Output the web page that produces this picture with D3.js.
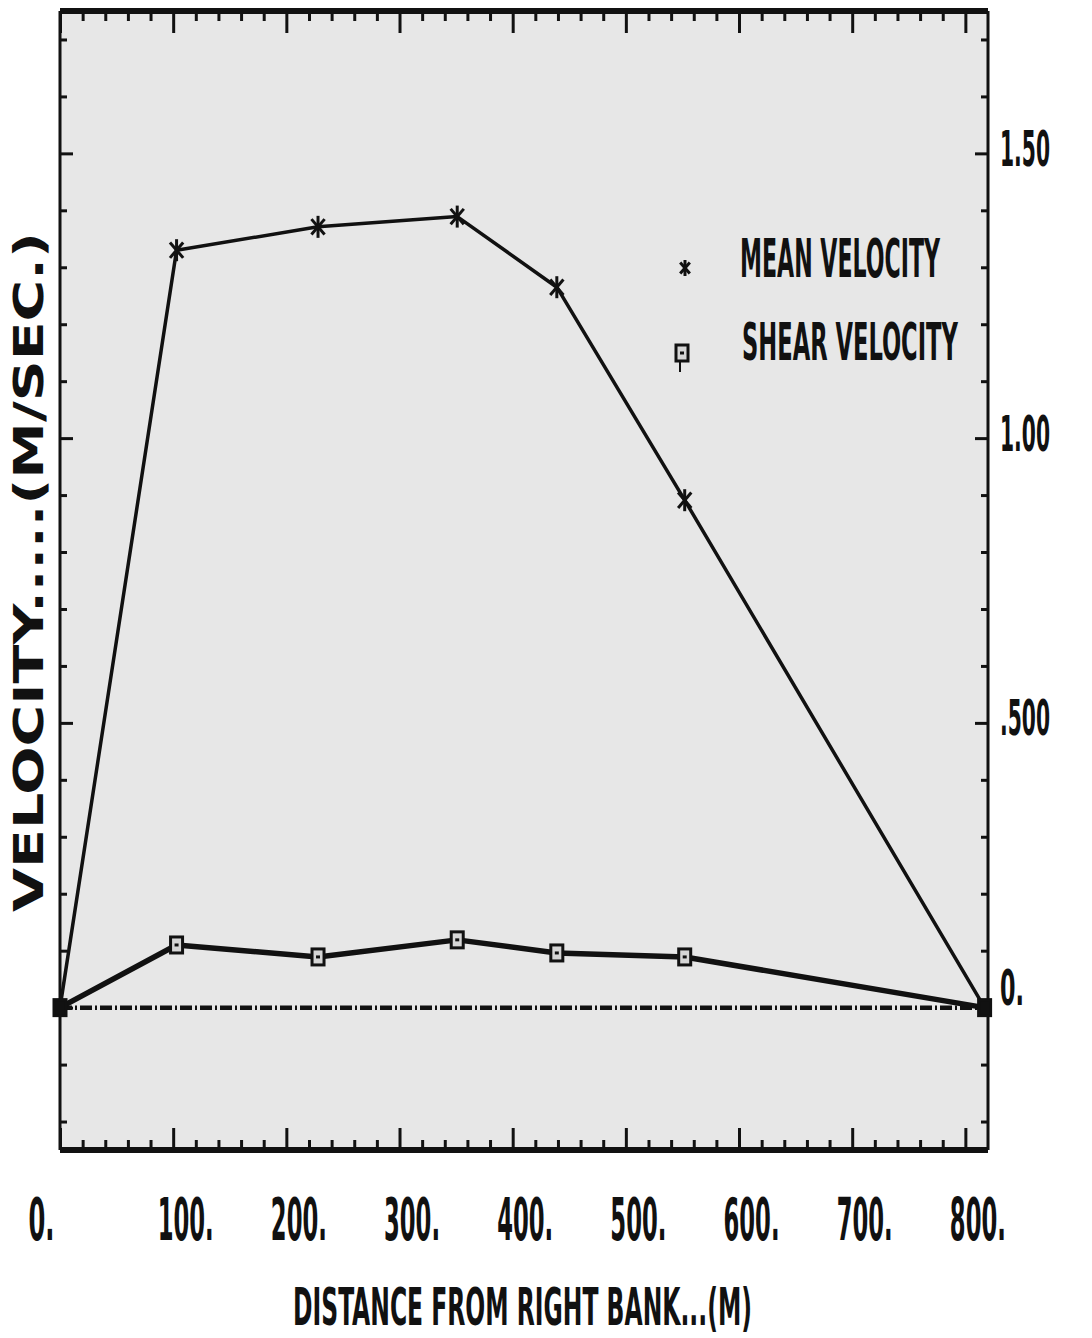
<!DOCTYPE html>
<html>
<head>
<meta charset="utf-8">
<script src="https://cdn.jsdelivr.net/npm/d3@7"></script>
<style>
  html, body { margin: 0; padding: 0; background: #ffffff; }
  svg { display: block; }
</style>
</head>
<body>
<svg id="chart" width="1092" height="1338"></svg>
<script>
// Cross-section velocity profile: distance from right bank vs. velocity
const distance      = [0, 103, 228, 351, 439, 552, 817];
const meanVelocity  = [0, 1.330, 1.371, 1.389, 1.265, 0.891, 0];
const shearVelocity = [0, 0.110, 0.089, 0.119, 0.096, 0.089, 0];

const xMajorTicks = [0, 100, 200, 300, 400, 500, 600, 700, 800];
const xTickLabels = ["0.", "100.", "200.", "300.", "400.", "500.", "600.", "700.", "800."];
const yMajorTicks = [0, 0.5, 1.0, 1.5];
const yTickLabels = ["0.", ".500", "1.00", "1.50"];

const legendLabels = ["MEAN VELOCITY", "SHEAR VELOCITY"];
const xTitle = "DISTANCE FROM RIGHT BANK...(M)";
const yTitle = "VELOCITY.....(M/SEC.)";

const svg = d3.select("#chart");
const frame = { left: 60, right: 988, top: 11, bottom: 1150 };

const x = d3.scaleLinear().domain([0, 820]).range([frame.left, frame.right]);
const y = d3.scaleLinear().domain([-0.25, 1.75]).range([frame.bottom, frame.top]);

const narrow = "'Liberation Sans Narrow', 'Arial Narrow', 'DejaVu Sans Condensed', sans-serif";

// Squeeze a text horizontally to a target width, keeping its height (tall condensed lettering).
function squeeze(sel, widthFn, extra) {
  sel.each(function (d, i) {
    const el = d3.select(this);
    const w = this.getComputedTextLength();
    const target = typeof widthFn === "function" ? widthFn(d, i) : widthFn;
    const s = target / w;
    const tx = +el.attr("x") || 0;
    const ty = +el.attr("y") || 0;
    el.attr("x", 0).attr("y", 0)
      .attr("transform", `translate(${tx},${ty})${extra || ""} scale(${s},1)`);
  });
}

// plot panel
svg.append("rect")
  .attr("x", frame.left).attr("y", frame.top)
  .attr("width", frame.right - frame.left).attr("height", frame.bottom - frame.top)
  .attr("fill", "#e7e7e7");

// minor tick positions
const xMinor = d3.range(20, 820, 20).filter(v => v % 100 !== 0);
const yMinor = d3.range(-2, 18).map(v => v / 10).filter(v => Math.abs(v * 2 - Math.round(v * 2)) > 1e-6);

function styleTicks(g) {
  g.select(".domain").remove();
  g.selectAll(".tick line").attr("stroke", "#111").attr("stroke-width", 3);
}

// top axis (ticks only)
svg.append("g").attr("transform", `translate(0,${frame.top})`)
  .call(d3.axisTop(x).tickValues(xMajorTicks).tickSize(-22).tickFormat(""))
  .call(styleTicks);
svg.append("g").attr("transform", `translate(0,${frame.top})`)
  .call(d3.axisTop(x).tickValues(xMinor).tickSize(-10).tickFormat(""))
  .call(styleTicks);

// bottom axis with labels
const xAxisG = svg.append("g").attr("transform", `translate(0,${frame.bottom})`)
  .call(d3.axisBottom(x).tickValues(xMajorTicks).tickSize(-22).tickPadding(10)
    .tickFormat((d, i) => xTickLabels[i]))
  .call(styleTicks);
svg.append("g").attr("transform", `translate(0,${frame.bottom})`)
  .call(d3.axisBottom(x).tickValues(xMinor).tickSize(-10).tickFormat(""))
  .call(styleTicks);

xAxisG.selectAll(".tick text")
  .attr("font-family", narrow)
  .attr("font-weight", "bold")
  .attr("font-size", 58)
  .attr("fill", "#111")
  .attr("y", 90).attr("dy", 0)
  .attr("x", d => d === 0 ? -19 : 12)
  .call(squeeze, d => d === 0 ? 26 : 56);

// left axis (ticks only)
svg.append("g").attr("transform", `translate(${frame.left},0)`)
  .call(d3.axisLeft(y).tickValues(yMajorTicks).tickSize(-13).tickFormat(""))
  .call(styleTicks);
svg.append("g").attr("transform", `translate(${frame.left},0)`)
  .call(d3.axisLeft(y).tickValues(yMinor).tickSize(-7).tickFormat(""))
  .call(styleTicks);

// right axis with labels
const yAxisG = svg.append("g").attr("transform", `translate(${frame.right},0)`)
  .call(d3.axisRight(y).tickValues(yMajorTicks).tickSize(-13).tickPadding(12)
    .tickFormat((d, i) => yTickLabels[i]))
  .call(styleTicks);
svg.append("g").attr("transform", `translate(${frame.right},0)`)
  .call(d3.axisRight(y).tickValues(yMinor).tickSize(-7).tickFormat(""))
  .call(styleTicks);

yAxisG.selectAll(".tick text")
  .attr("font-family", narrow)
  .attr("font-weight", "bold")
  .attr("font-size", 50)
  .attr("fill", "#111")
  .attr("x", 12)
  .attr("y", d => d === 0 ? -3 : 12)
  .attr("dy", 0)
  .call(squeeze, d => d === 0 ? 24 : 50);

// frame: heavier top and bottom rules
svg.append("line").attr("x1", frame.left).attr("x2", frame.right).attr("y1", frame.top).attr("y2", frame.top)
  .attr("stroke", "#111").attr("stroke-width", 6);
svg.append("line").attr("x1", frame.left).attr("x2", frame.right).attr("y1", frame.bottom).attr("y2", frame.bottom)
  .attr("stroke", "#111").attr("stroke-width", 6);
svg.append("line").attr("x1", frame.left).attr("x2", frame.left).attr("y1", frame.top).attr("y2", frame.bottom)
  .attr("stroke", "#111").attr("stroke-width", 3);
svg.append("line").attr("x1", frame.right).attr("x2", frame.right).attr("y1", frame.top).attr("y2", frame.bottom)
  .attr("stroke", "#111").attr("stroke-width", 3);

// zero reference line (dash-dot)
svg.append("line")
  .attr("x1", x(distance[0])).attr("x2", x(distance[distance.length - 1]))
  .attr("y1", y(0)).attr("y2", y(0))
  .attr("stroke", "#111").attr("stroke-width", 4.5)
  .attr("stroke-dasharray", "12,3,2,3");

const meanPts = distance.map((d, i) => [d, meanVelocity[i]]);
const shearPts = distance.map((d, i) => [d, shearVelocity[i]]);
const line = d3.line().x(p => x(p[0])).y(p => y(p[1]));

svg.append("path").datum(meanPts).attr("d", line)
  .attr("fill", "none").attr("stroke", "#111").attr("stroke-width", 3.5)
  .attr("stroke-linejoin", "round");
svg.append("path").datum(shearPts).attr("d", line)
  .attr("fill", "none").attr("stroke", "#111").attr("stroke-width", 5.5)
  .attr("stroke-linejoin", "round");

// asterisk marker
function asterisk(g, cx, cy, s) {
  const a = g.append("g").attr("transform", `translate(${cx},${cy})`)
    .attr("stroke", "#111").attr("stroke-width", 3);
  a.append("line").attr("x1", 0).attr("x2", 0).attr("y1", -s).attr("y2", s);
  a.append("line").attr("x1", -s * 0.6).attr("x2", s * 0.6).attr("y1", -s * 0.7).attr("y2", s * 0.7);
  a.append("line").attr("x1", s * 0.6).attr("x2", -s * 0.6).attr("y1", -s * 0.7).attr("y2", s * 0.7);
}
// square marker
function square(g, cx, cy, filled) {
  const q = g.append("g").attr("transform", `translate(${cx},${cy})`);
  q.append("rect").attr("x", -6).attr("y", -8).attr("width", 12).attr("height", 16)
    .attr("fill", filled ? "#111" : "#d6d6d6").attr("stroke", "#111").attr("stroke-width", 3);
  if (!filled) {
    q.append("line").attr("x1", -2).attr("x2", 2).attr("y1", 0).attr("y2", 0)
      .attr("stroke", "#111").attr("stroke-width", 3);
  }
}

const markers = svg.append("g");
meanPts.forEach((p, i) => {
  if (i > 0 && i < meanPts.length - 1) asterisk(markers, x(p[0]), y(p[1]), 11);
});
shearPts.forEach((p, i) => {
  const ends = i === 0 || i === shearPts.length - 1;
  square(markers, x(p[0]), y(p[1]), ends);
});

// legend
const legend = svg.append("g");
asterisk(legend, 685, 268, 8);
square(legend, 682, 353, false);
legend.append("line").attr("x1", 680).attr("x2", 680).attr("y1", 360).attr("y2", 372)
  .attr("stroke", "#111").attr("stroke-width", 2);
legend.append("text").attr("x", 740).attr("y", 277).text(legendLabels[0])
  .attr("font-family", narrow).attr("font-weight", "bold").attr("font-size", 54).attr("fill", "#111")
  .call(squeeze, 200);
legend.append("text").attr("x", 742).attr("y", 360).text(legendLabels[1])
  .attr("font-family", narrow).attr("font-weight", "bold").attr("font-size", 52).attr("fill", "#111")
  .call(squeeze, 216);

// axis titles
svg.append("text")
  .attr("x", (293 + 752) / 2).attr("y", 1325)
  .attr("text-anchor", "middle")
  .attr("font-family", narrow).attr("font-weight", "bold").attr("font-size", 52).attr("fill", "#111")
  .text(xTitle)
  .call(squeeze, 459);

svg.append("text")
  .attr("x", 43).attr("y", 572)
  .attr("text-anchor", "middle")
  .attr("font-family", "'DejaVu Sans', sans-serif").attr("font-weight", "bold").attr("font-size", 40).attr("fill", "#111")
  .text(yTitle)
  .call(squeeze, 680, " rotate(-90)");
</script>
</body>
</html>
